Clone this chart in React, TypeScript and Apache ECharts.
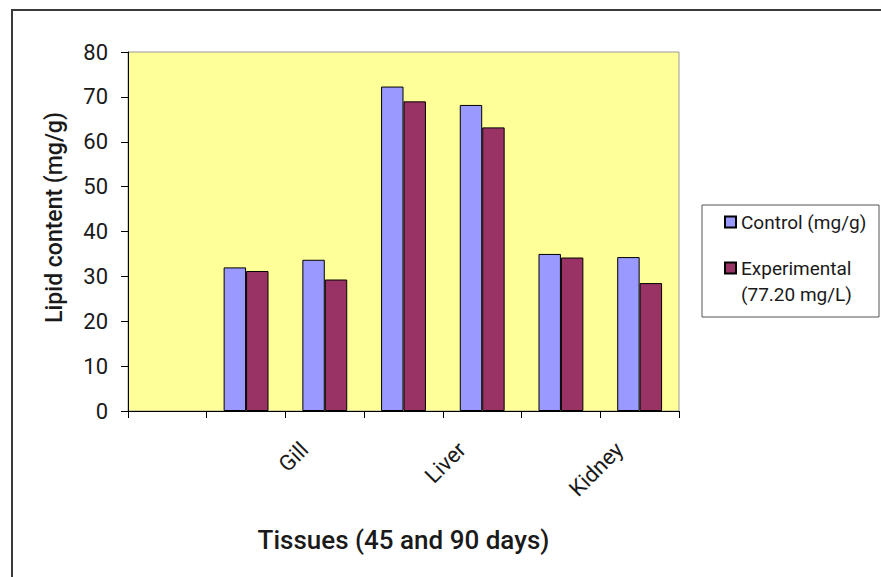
import React, { useEffect, useRef } from "react";
import * as echarts from "echarts";

const categories = ["", "Gill (45 days)", "Gill (90 days)", "Liver (45 days)", "Liver (90 days)", "Kidney (45 days)", "Kidney (90 days)"];
const tickLabels = ["", "", "Gill", "", "Liver", "", "Kidney", ""];
const controlValues = [null, 32.0, 33.7, 72.3, 68.2, 35.0, 34.3];
const experimentalValues = [null, 31.2, 29.3, 69.0, 63.2, 34.2, 28.5];
const yTicks = { min: 0, max: 80, interval: 10 };
const controlName = "Control (mg/g)";
const experimentalName = "Experimental (77.20 mg/L)";

const FONT = "Roboto, 'Noto Sans', Arial, sans-serif";
const TEXT = "#1a1a1a";

export default function App() {
  const ref = useRef<HTMLDivElement>(null);
  useEffect(() => {
    document.body.style.margin = "0";
    const chart = echarts.init(ref.current!, undefined, { renderer: "svg" });
    const gridL = 128, gridT = 52, gridW = 551, gridH = 359;
    chart.setOption({
      animation: false,
      backgroundColor: "#ffffff",
      textStyle: { fontFamily: FONT, color: TEXT },
      grid: [
        { left: gridL, top: gridT, width: gridW, height: gridH, show: true, backgroundColor: "#FFFF99", borderColor: "#9a9a9a", borderWidth: 1, containLabel: false, outerBoundsMode: "none" },
        { left: gridL + 19, top: gridT, width: gridW, height: gridH, show: false, containLabel: false, outerBoundsMode: "none" },
      ],
      graphic: [
        { type: "rect", z: 0, shape: { x: 12, y: 10, width: 900, height: 600 }, style: { fill: "none", stroke: "#3a3a3a", lineWidth: 2 } },
        { type: "rect", z: 0, shape: { x: 702, y: 205, width: 177, height: 112 }, style: { fill: "#ffffff", stroke: "#555555", lineWidth: 1 } },
      ],
      xAxis: [
        {
          type: "category",
          gridIndex: 0,
          data: categories,
          boundaryGap: true,
          axisLine: { show: true, lineStyle: { color: "#000", width: 1 } },
          axisTick: { show: true, inside: false, length: 7, alignWithLabel: false, interval: 0, lineStyle: { color: "#000" } },
          axisLabel: { show: false },
          splitLine: { show: false },
          name: "Tissues (45 and 90 days)",
          nameLocation: "middle",
          nameGap: 116,
          nameTextStyle: { fontFamily: FONT, fontSize: 26, fontWeight: 500, color: TEXT },
        },
        {
          type: "category",
          gridIndex: 1,
          data: tickLabels,
          boundaryGap: false,
          axisLine: { show: false },
          axisTick: { show: false },
          splitLine: { show: false },
          axisLabel: { show: true, interval: 0, rotate: 45, margin: 35, fontFamily: FONT, fontSize: 22, color: TEXT },
        },
      ],
      yAxis: [
        {
          type: "value",
          gridIndex: 0,
          min: yTicks.min,
          max: yTicks.max,
          interval: yTicks.interval,
          axisLine: { show: true, lineStyle: { color: "#000", width: 1 } },
          axisTick: { show: true, inside: false, length: 7, lineStyle: { color: "#000" } },
          axisLabel: { margin: 20, fontFamily: FONT, fontSize: 22, color: TEXT },
          splitLine: { show: false },
          name: "Lipid content (mg/g)",
          nameLocation: "middle",
          nameGap: 62,
          nameTextStyle: { fontFamily: FONT, fontSize: 23, fontWeight: 500, color: TEXT, padding: [0, 0, 0, 28] },
        },
        { type: "value", gridIndex: 1, show: false, min: 0, max: 80 },
      ],
      legend: [
        {
          data: [controlName],
          left: 724,
          top: 209,
          padding: 0,
          icon: "rect",
          itemWidth: 11,
          itemHeight: 11,
          itemGap: 0,
          textStyle: { fontFamily: FONT, fontSize: 19, color: TEXT, lineHeight: 26 },
        },
        {
          data: [experimentalName],
          left: 724,
          top: 229,
          padding: 0,
          icon: "rect",
          itemWidth: 11,
          itemHeight: 11,
          itemGap: 0,
          formatter: () => "\nExperimental\n(77.20 mg/L)",
          textStyle: { fontFamily: FONT, fontSize: 19, color: TEXT, lineHeight: 26 },
        },
      ],
      series: [
        {
          name: controlName,
          type: "bar",
          xAxisIndex: 0,
          yAxisIndex: 0,
          data: controlValues,
          barGap: "0%",
          barCategoryGap: "43%",
          itemStyle: { color: "#9999FF", borderColor: "#000", borderWidth: 1 },
        },
        {
          name: experimentalName,
          type: "bar",
          xAxisIndex: 0,
          yAxisIndex: 0,
          data: experimentalValues,
          barGap: "0%",
          barCategoryGap: "43%",
          itemStyle: { color: "#993366", borderColor: "#000", borderWidth: 1 },
        },
      ],
    });
    return () => chart.dispose();
  }, []);
  return <div ref={ref} style={{ width: 881, height: 577 }} />;
}
